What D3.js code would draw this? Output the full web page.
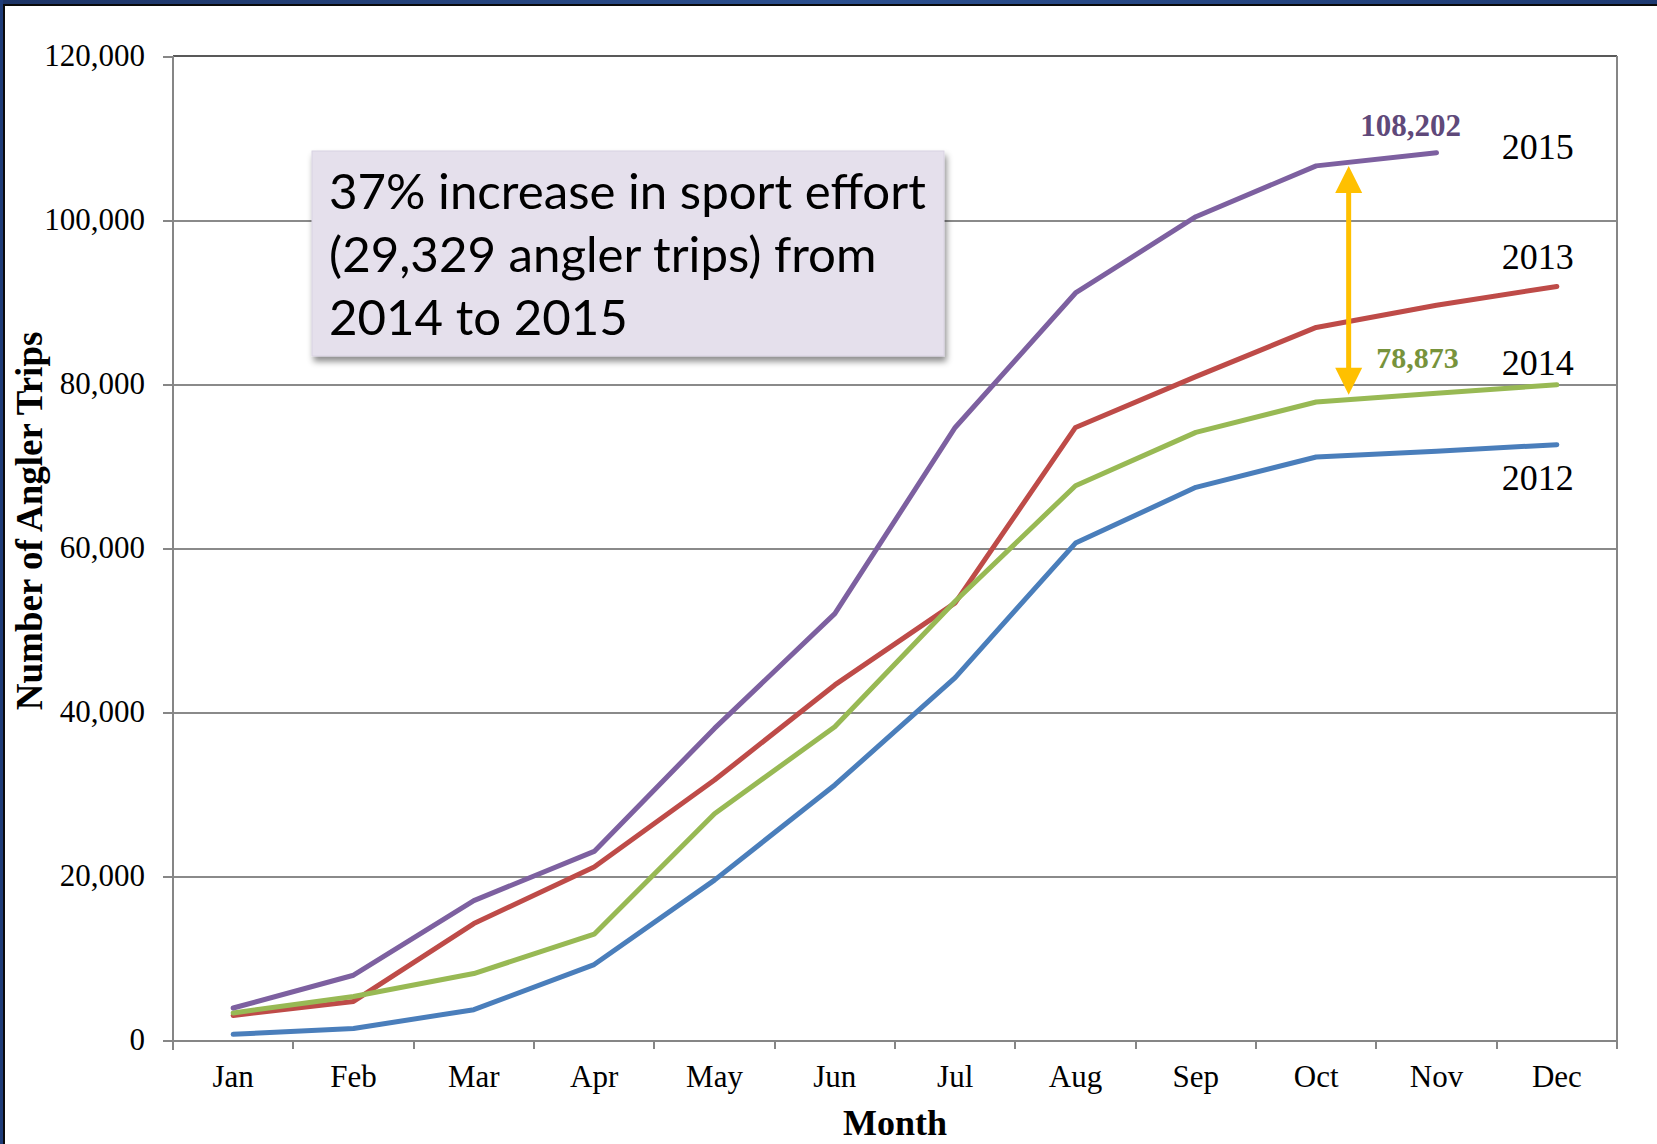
<!DOCTYPE html>
<title>Cumulative angler trips by month, 2012-2015</title>
<meta charset="utf-8">
<style>

html, body {
  margin: 0;
  padding: 0;
  background: #fff;
}

body {
  font-family: "Liberation Serif", "Times New Roman", serif;
}

.frame {
  position: absolute;
  left: 0;
  top: 0;
  width: 1657px;
  height: 1144px;
  overflow: hidden;
}

.axis path,
.axis line {
  fill: none;
  stroke: #868686;
  stroke-width: 2;
  shape-rendering: crispEdges;
}

.grid line {
  stroke: #8a8a8a;
  stroke-width: 2;
  shape-rendering: crispEdges;
}

.grid path {
  stroke: none;
}

</style>
<body>

<script src="https://cdn.jsdelivr.net/npm/d3@7"></script>

<script>

// data
var months = ["Jan", "Feb", "Mar", "Apr", "May", "Jun", "Jul", "Aug", "Sep", "Oct", "Nov", "Dec"];
var yTicks = [0, 20000, 40000, 60000, 80000, 100000, 120000];

var trips2012 = [700, 1400, 3700, 9200, 19500, 31100, 44200, 60600, 67400, 71100, 71800, 72600];
var trips2013 = [3000, 4700, 14200, 21100, 31700, 43300, 53300, 74700, 80900, 86900, 89600, 91900];
var trips2014 = [3300, 5300, 8100, 12900, 27600, 38200, 53500, 67600, 74100, 77800, 78873, 79900];
var trips2015 = [3900, 7900, 17000, 23000, 38000, 52000, 74700, 91100, 100400, 106600, 108202];

var seriesNames = ["2012", "2013", "2014", "2015"];
var seriesColors = ["#4a7ebb", "#be4b48", "#98b954", "#7d60a0"];

var calloutLines = ["37% increase in sport effort", "(29,329 angler trips) from", "2014 to 2015"];

// canvas
var W = 1657, H = 1144;
var margin = {top: 56, right: 40, bottom: 104, left: 173},
    width = W - margin.left - margin.right,
    height = H - margin.top - margin.bottom;

var svg = d3.select("body")
  .append("div").attr("class", "frame")
  .append("svg")
    .attr("width", W)
    .attr("height", H);

// slide frame (dark blue edge at the top and the left)
var defs = svg.append("defs");
var grad = defs.append("linearGradient").attr("id", "navy").attr("x1", 0).attr("x2", 1);
grad.append("stop").attr("offset", 0).attr("stop-color", "#1d3466");
grad.append("stop").attr("offset", 0.5).attr("stop-color", "#2b4f8f");
grad.append("stop").attr("offset", 1).attr("stop-color", "#1e3a72");

svg.append("rect").attr("x", 0).attr("y", 0).attr("width", W).attr("height", 4).attr("fill", "url(#navy)");
svg.append("rect").attr("x", 0).attr("y", 4).attr("width", W).attr("height", 2).attr("fill", "#0a0a0a");
svg.append("rect").attr("x", 0).attr("y", 0).attr("width", 3).attr("height", H).attr("fill", "#1f3c78");
svg.append("rect").attr("x", 3).attr("y", 4).attr("width", 2).attr("height", H).attr("fill", "#0a0a0a");

var shadow = defs.append("filter").attr("id", "shadow")
    .attr("x", "-5%").attr("y", "-5%").attr("width", "115%").attr("height", "125%");
shadow.append("feDropShadow")
    .attr("dx", 2).attr("dy", 5).attr("stdDeviation", 3)
    .attr("flood-color", "#000").attr("flood-opacity", 0.45);

var g = svg.append("g")
    .attr("transform", "translate(" + margin.left + "," + margin.top + ")");

// scales
var x = d3.scaleBand().domain(months).range([0, width]).padding(0);
var y = d3.scaleLinear().domain([0, 120000]).range([height, 0]);
var cx = function(i) { return x(months[i]) + x.bandwidth() / 2; };
var color = d3.scaleOrdinal().domain(seriesNames).range(seriesColors);

// gridlines
g.append("g")
    .attr("class", "grid")
    .call(d3.axisLeft(y).tickValues(yTicks.slice(1, -1)).tickSize(-width).tickFormat(""));

// plot border top and right
g.append("line")
    .attr("x1", 0).attr("x2", width).attr("y1", y(120000)).attr("y2", y(120000))
    .attr("stroke", "#595959").attr("stroke-width", 2);
g.append("line")
    .attr("x1", width).attr("x2", width).attr("y1", y(120000)).attr("y2", height)
    .attr("stroke", "#868686").attr("stroke-width", 2);

// y axis
var yAxis = g.append("g")
    .attr("class", "axis")
    .call(d3.axisLeft(y).tickValues(yTicks).tickSize(10).tickPadding(18).tickFormat(d3.format(",")));
yAxis.select(".domain").attr("d", "M0," + (height + 10) + "V0");
yAxis.selectAll("text")
    .style("font-family", "Liberation Serif")
    .style("font-size", "31px")
    .attr("fill", "#000");

// x axis: labels centred, tick marks on the month boundaries
var xAxis = g.append("g")
    .attr("class", "axis")
    .attr("transform", "translate(0," + height + ")")
    .call(d3.axisBottom(x).tickSize(0).tickPadding(25));
xAxis.selectAll("text")
    .style("font-family", "Liberation Serif")
    .style("font-size", "31px")
    .attr("fill", "#000");
xAxis.selectAll(".boundary")
    .data(months.concat(["end"]))
  .enter().append("line")
    .attr("class", "boundary")
    .attr("x1", function(d, i) { return i * x.step(); })
    .attr("x2", function(d, i) { return i * x.step(); })
    .attr("y1", 0)
    .attr("y2", 9);

// axis titles
g.append("text")
    .attr("x", width / 2)
    .attr("y", height + 95)
    .attr("text-anchor", "middle")
    .style("font-size", "36px")
    .style("font-weight", "bold")
    .text("Month");

g.append("text")
    .attr("transform", "translate(" + (42 - margin.left) + "," + (y(63300)) + ") rotate(-90)")
    .attr("text-anchor", "middle")
    .style("font-size", "37px")
    .style("font-weight", "bold")
    .text("Number of Angler Trips");

// lines
var allSeries = [trips2012, trips2013, trips2014, trips2015];
var line = d3.line()
    .x(function(d, i) { return cx(i); })
    .y(function(d) { return y(d); });

g.selectAll(".series")
    .data(allSeries)
  .enter().append("path")
    .attr("class", "series")
    .attr("fill", "none")
    .attr("stroke", function(d, i) { return color(seriesNames[i]); })
    .attr("stroke-width", 5)
    .attr("stroke-linejoin", "round")
    .attr("stroke-linecap", "round")
    .attr("d", line);

// series labels at the right end
var labelShift = [45, -17, -10, 6];
g.selectAll(".serieslabel")
    .data(seriesNames)
  .enter().append("text")
    .attr("class", "serieslabel")
    .attr("x", cx(11) - 55)
    .attr("y", function(d, i) {
      var s = allSeries[i];
      return y(s[s.length - 1]) + labelShift[i];
    })
    .style("font-size", "36px")
    .attr("fill", "#000")
    .text(function(d) { return d; });

// value labels
g.append("text")
    .attr("x", cx(10) - 26)
    .attr("y", y(trips2015[10]) - 17)
    .attr("text-anchor", "middle")
    .style("font-size", "31px")
    .style("font-weight", "bold")
    .attr("fill", "#5f497a")
    .text(d3.format(",")(trips2015[10]));

g.append("text")
    .attr("x", cx(10) - 19)
    .attr("y", y(trips2014[10]) - 25)
    .attr("text-anchor", "middle")
    .style("font-size", "30px")
    .style("font-weight", "bold")
    .attr("fill", "#77933c")
    .text(d3.format(",")(trips2014[10]));

// double-headed arrow between 2014 and 2015
var ax = x("Oct") + x.bandwidth() * 0.77;
var aTop = y(106600), aBot = y(78700), head = 27, half = 13.5;
var arrow = g.append("g").attr("fill", "#ffc000").attr("stroke", "none");
arrow.append("rect")
    .attr("x", ax - 2.5).attr("y", aTop + head - 1)
    .attr("width", 5).attr("height", aBot - aTop - 2 * head + 2);
arrow.append("path")
    .attr("d", "M" + ax + "," + aTop + "L" + (ax + half) + "," + (aTop + head) + "L" + (ax - half) + "," + (aTop + head) + "Z");
arrow.append("path")
    .attr("d", "M" + ax + "," + aBot + "L" + (ax + half) + "," + (aBot - head) + "L" + (ax - half) + "," + (aBot - head) + "Z");

// callout box
var box = svg.append("g").attr("transform", "translate(312,151)");
box.append("rect")
    .attr("width", 632)
    .attr("height", 205)
    .attr("fill", "#e5e0ec")
    .attr("stroke", "#d8d2e2")
    .attr("stroke-width", 1)
    .attr("filter", "url(#shadow)");
var ct = box.selectAll(".callout")
    .data(calloutLines)
  .enter().append("text")
    .attr("class", "callout")
    .attr("x", 17)
    .attr("y", function(d, i) { return 58 + i * 63; })
    .style("font-family", "Lato, 'Open Sans', sans-serif")
    .style("font-size", "48px")
    .attr("fill", "#000")
    .text(function(d) { return d; });
// fit the widest line to the box like the original narrow font
var w0 = ct.nodes()[0].getComputedTextLength();
ct.style("font-size", (48 * 597 / w0) + "px");

</script>
</body>
